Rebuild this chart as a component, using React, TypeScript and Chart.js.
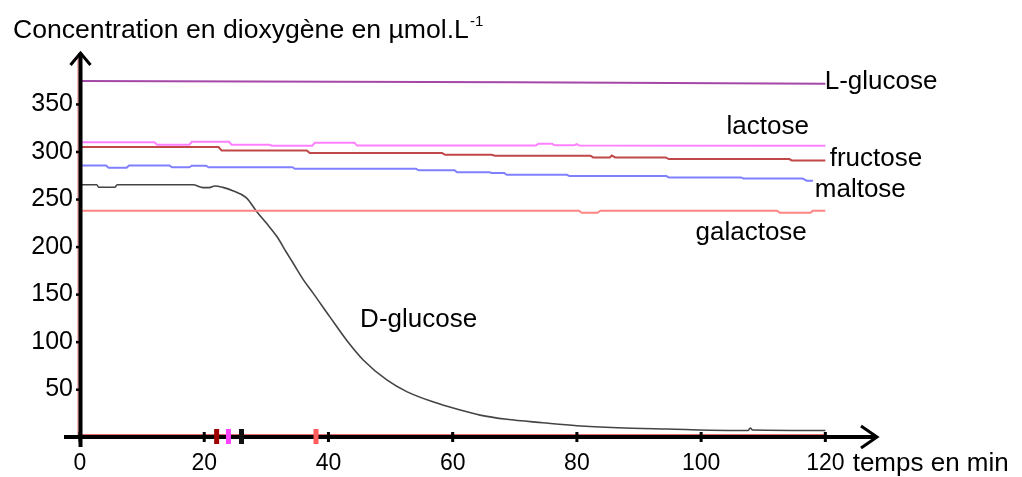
import React, { useEffect, useRef } from "react";
import { Chart, registerables } from "chart.js";

Chart.register(...registerables);

const FONT = "'Liberation Sans', Arial, Helvetica, sans-serif";

// Axis ticks
const xTickValues = [0, 20, 40, 60, 80, 100, 120];
const yTickValues = [50, 100, 150, 200, 250, 300, 350];

// Series: [time in min, O2 concentration in µmol/L]
const lGlucose: [number, number][] = [
  [0, 374.5], [70, 373], [120, 371.5],
];

const lactose: [number, number][] = [
  [0, 310], [12, 310], [12.4, 307.4], [17.6, 307.4], [18, 310.5], [24, 310.5],
  [24.4, 307.4], [30.5, 307.4], [30.9, 306.3], [37.4, 306.3], [37.8, 309.5],
  [44.2, 309.5], [44.6, 306.5], [73.4, 306.5], [73.8, 308.5], [76, 308.5],
  [76.4, 306.8], [79.6, 306.8], [80, 308], [80.4, 306.5], [120, 306.3],
];

const fructose: [number, number][] = [
  [0, 305], [22.3, 305], [22.8, 301.4], [36.5, 301.4], [37, 298.6], [58.3, 298.6],
  [58.8, 296.8], [66.3, 296.8], [66.8, 295.8], [82.2, 295.8], [82.6, 294],
  [85.3, 294], [85.6, 296], [86.2, 294], [94.3, 294], [94.8, 292.3],
  [114.2, 292.3], [114.6, 290.8], [120, 290.8],
];

const maltose: [number, number][] = [
  [0, 285.6], [4.2, 285.6], [4.6, 283.2], [7.5, 283.2], [7.9, 285.6], [14.4, 285.6],
  [14.8, 283.7], [17.6, 283.7], [18, 285.3], [20.3, 285.3], [20.7, 283.7],
  [34.2, 283.7], [34.6, 282.1], [54.1, 282.1], [54.5, 280.5], [60.3, 280.5],
  [60.7, 278.4], [65.9, 278.4], [66.3, 277.6], [68.3, 277.6], [68.7, 275.8],
  [78.4, 275.8], [78.8, 274.4], [94.4, 274.4], [94.8, 273], [106.4, 273],
  [106.8, 271.9], [116.3, 271.9], [117, 269.5], [118, 269.5],
];

const galactose: [number, number][] = [
  [0, 238], [80.3, 238], [80.8, 235.8], [83.3, 235.8], [83.8, 238], [112.2, 238],
  [112.7, 235.8], [117.6, 235.8], [118, 238], [120, 238],
];

const dGlucose: [number, number][] = [
  [0, 265.3], [2.7, 265.3], [3, 262.6], [5.6, 262.6], [6, 265.3], [18.2, 265.3],
  [19.8, 262.3], [20.8, 262.3], [21.7, 264], [23, 262.5], [24.6, 259],
  [26.8, 251.5], [28.4, 237.5], [30, 225], [31.7, 210.8], [33.3, 193.5],
  [34.3, 183], [36, 165], [37.5, 151.6], [40.2, 126.6], [42.9, 102],
  [45.6, 81], [49.4, 60], [52.6, 47.7], [56.8, 37], [61.2, 28.4], [64.4, 23],
  [68.7, 18.6], [74.5, 15], [80, 11.9], [86.6, 9.8], [94.5, 8.4], [104.3, 6.9],
  [107.6, 6.9], [107.9, 9.5], [108.3, 7.3], [120, 6.8],
];

const seriesNames = ["L-glucose", "lactose", "fructose", "maltose", "galactose", "D-glucose"];
const seriesData = [lGlucose, lactose, fructose, maltose, galactose, dGlucose];
const seriesColors = ["#a448a8", "#ff80ff", "#c04848", "#8080ff", "#ff8484", "#444444"];
const seriesWidths = [2, 2, 2, 2, 2, 1.6];
const seriesSmooth = [false, false, false, false, false, true];

// Label anchor (left, baseline) in data units [time, concentration]
const labelAnchors: [number, number][] = [
  [119.9, 365.5], [104.1, 319], [120.7, 285.5], [118.3, 252.3], [99.1, 207.4], [45.1, 116.1],
];

// Injection markers on the time axis
const markerTimes = [22, 23.9, 26, 38];
const markerColors = ["#a00000", "#ff44ff", "#111111", "#ff5c5c"];

const yTitle = "Concentration en dioxygène en µmol.L";
const yTitleSup = "-1";
const xTitle = "temps en min";

const decorPlugin = {
  id: "decor",
  afterDatasetsDraw(chart: any) {
    const { ctx, chartArea, scales } = chart;
    const xs = scales.x;
    const ys = scales.y;
    const x0 = xs.getPixelForValue(0);
    const y0 = ys.getPixelForValue(0);
    ctx.save();

    // thin red traces along the axes
    ctx.strokeStyle = "#e46a6a";
    ctx.lineWidth = 1;
    ctx.beginPath();
    ctx.moveTo(x0 - 2, chartArea.top + 8);
    ctx.lineTo(x0 - 2, y0);
    ctx.stroke();
    ctx.beginPath();
    ctx.moveTo(x0, y0 - 2.5);
    ctx.lineTo(xs.getPixelForValue(120), y0 - 2.5);
    ctx.stroke();

    ctx.strokeStyle = "#000";
    ctx.fillStyle = "#000";
    ctx.lineCap = "butt";
    ctx.lineJoin = "miter";

    // y axis
    ctx.lineWidth = 4;
    ctx.beginPath();
    ctx.moveTo(x0 + 0.5, chartArea.top + 3);
    ctx.lineTo(x0 + 0.5, y0 + 10);
    ctx.stroke();
    ctx.lineWidth = 3;
    ctx.beginPath();
    ctx.moveTo(x0 - 9.5, chartArea.top + 15);
    ctx.lineTo(x0 + 0.5, chartArea.top + 3);
    ctx.lineTo(x0 + 10.5, chartArea.top + 15);
    ctx.stroke();

    // x axis
    ctx.lineWidth = 4;
    ctx.beginPath();
    ctx.moveTo(x0 - 16, y0);
    ctx.lineTo(chartArea.right - 3, y0);
    ctx.stroke();
    ctx.lineWidth = 3;
    ctx.beginPath();
    ctx.moveTo(chartArea.right - 19, y0 - 11);
    ctx.lineTo(chartArea.right - 3, y0);
    ctx.lineTo(chartArea.right - 19, y0 + 11);
    ctx.stroke();

    // y tick marks
    yTickValues.forEach((v) => {
      const y = ys.getPixelForValue(v);
      ctx.fillRect(x0 - 4, y - 1, 4, 2.5);
    });
    // x tick marks
    xTickValues.forEach((t) => {
      const x = xs.getPixelForValue(t);
      ctx.fillRect(x - 1.5, y0 - 5, 3, 10);
    });
    // markers
    markerTimes.forEach((t, i) => {
      ctx.fillStyle = markerColors[i];
      const x = xs.getPixelForValue(t);
      ctx.fillRect(x - 2.5, y0 - 8, 5, 15);
    });

    // series labels
    ctx.fillStyle = "#000";
    ctx.font = `26px ${FONT}`;
    ctx.textBaseline = "alphabetic";
    ctx.textAlign = "left";
    seriesNames.forEach((name, i) => {
      const [t, v] = labelAnchors[i];
      ctx.fillText(name, xs.getPixelForValue(t), ys.getPixelForValue(v));
    });

    // axis titles
    ctx.font = `26.6px ${FONT}`;
    const tx = 13;
    const ty = 37.5;
    ctx.fillText(yTitle, tx, ty);
    const w = ctx.measureText(yTitle).width;
    ctx.font = `15px ${FONT}`;
    ctx.fillText(yTitleSup, tx + w + 1, 26);

    ctx.font = `26px ${FONT}`;
    ctx.fillText(xTitle, xs.getPixelForValue(124.4), 471);

    ctx.restore();
  },
};

export default function App() {
  const canvasRef = useRef<HTMLCanvasElement | null>(null);

  useEffect(() => {
    const canvas = canvasRef.current;
    if (!canvas) return;
    const chart = new Chart(canvas, {
      type: "line",
      data: {
        datasets: seriesNames.map((name, i) => ({
          label: name,
          data: seriesData[i].map(([x, y]) => ({ x, y })),
          borderColor: seriesColors[i],
          borderWidth: seriesWidths[i],
          pointRadius: 0,
          tension: seriesSmooth[i] ? 0.4 : 0,
          cubicInterpolationMode: seriesSmooth[i] ? "monotone" : "default",
          fill: false,
        })),
      },
      options: {
        animation: false,
        responsive: false,
        devicePixelRatio: 1,
        layout: { padding: { top: 50, right: 142, left: 0, bottom: 0 } },
        plugins: {
          legend: { display: false },
          tooltip: { enabled: false },
          title: { display: false },
        },
        scales: {
          x: {
            type: "linear",
            min: 0,
            max: 128.8,
            grid: { display: false, drawTicks: false },
            border: { display: false },
            ticks: {
              stepSize: 20,
              color: "#000",
              padding: 13,
              maxRotation: 0,
              font: { family: FONT, size: 23 },
            },
            afterBuildTicks: (s: any) => {
              s.ticks = xTickValues.map((v) => ({ value: v }));
            },
            afterFit: (s: any) => {
              s.height = 40;
            },
          },
          y: {
            type: "linear",
            min: 0,
            max: 407,
            grid: { display: false, drawTicks: false },
            border: { display: false },
            ticks: {
              stepSize: 50,
              color: "#000",
              padding: 7,
              font: { family: FONT, size: 25 },
            },
            afterBuildTicks: (s: any) => {
              s.ticks = yTickValues.map((v) => ({ value: v }));
            },
            afterFit: (s: any) => {
              s.width = 80;
            },
          },
        },
      },
      plugins: [decorPlugin],
    });
    return () => chart.destroy();
  }, []);

  return (
    <div style={{ position: "absolute", left: 0, top: 0, width: 1022, height: 477, background: "#fff" }}>
      <canvas ref={canvasRef} width={1022} height={477} style={{ display: "block" }} />
    </div>
  );
}
